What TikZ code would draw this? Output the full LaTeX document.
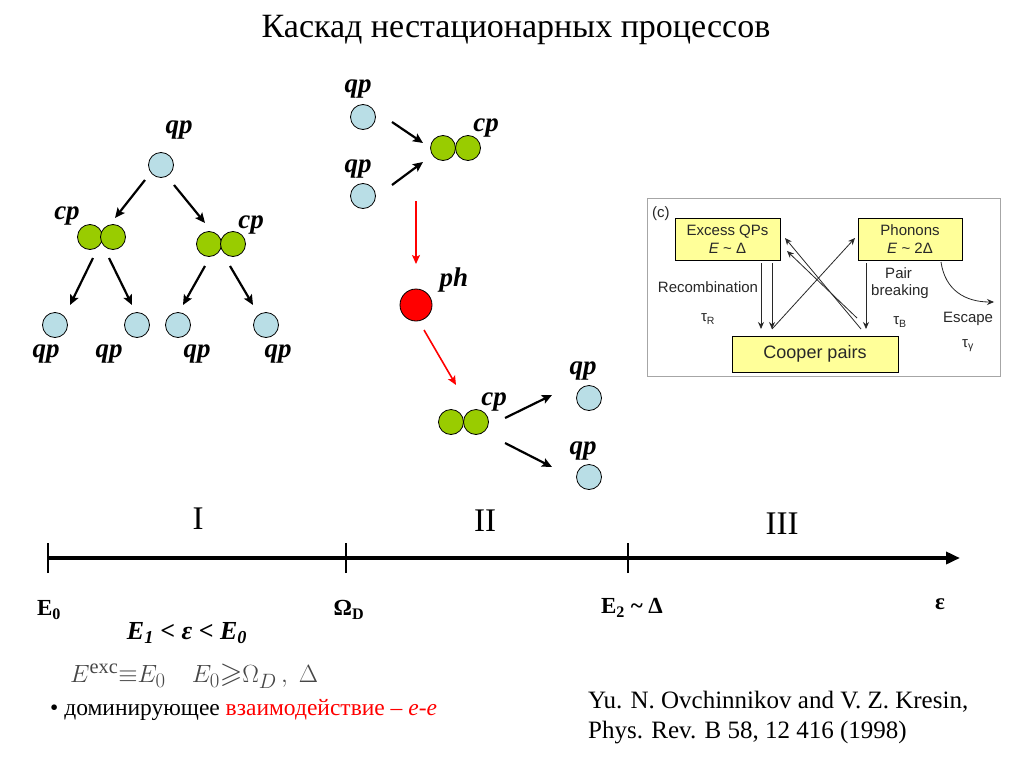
\documentclass[tikz,border=0pt]{standalone}
\usepackage{amssymb}
\usepackage{fontspec}
\setmainfont{Liberation Serif}
\newfontfamily\insetfont{Liberation Sans}
\usetikzlibrary{arrows.meta}
\definecolor{qpblue}{RGB}{185,222,230}
\definecolor{cpgreen}{RGB}{153,204,0}
\definecolor{phred}{RGB}{255,0,0}
\definecolor{boxyellow}{RGB}{255,255,153}
\definecolor{insettext}{RGB}{40,40,40}
\definecolor{formgray}{RGB}{70,70,70}
\begin{document}
\begin{tikzpicture}[x=1pt,y=-1pt,
  qpc/.style={circle,draw=black,line width=0.8pt,fill=qpblue,minimum size=25pt,inner sep=0pt},
  cpc/.style={circle,draw=black,line width=0.8pt,fill=cpgreen,minimum size=25pt,inner sep=0pt},
  phc/.style={circle,draw=black,line width=0.8pt,fill=phred,minimum size=32pt,inner sep=0pt},
  pairbox/.style={inner sep=0pt,minimum width=48pt,minimum height=25pt},
  lab/.style={font=\fontsize{27}{30}\selectfont\bfseries\itshape,inner sep=0pt},
  arr/.style={line width=2.2pt,-{Stealth[length=10pt,width=9pt,inset=2pt]}},
  redarr/.style={line width=1.6pt,draw=phred,-{Stealth[length=9pt,width=8pt,inset=2pt]}},
  axlab/.style={font=\fontsize{23}{26}\selectfont\bfseries,inner sep=0pt},
  region/.style={font=\fontsize{33}{36}\selectfont,inner sep=0pt},
  ybox/.style={draw=black,line width=0.6pt,fill=boxyellow,inner sep=0pt,align=center,text=insettext},
  itext/.style={font=\insetfont\fontsize{15}{18}\selectfont,text=insettext,inner sep=0pt,align=center},
  iarr/.style={line width=0.8pt,draw=insettext,-{Stealth[length=7pt,width=6pt]}}
]
\useasboundingbox (0,0) rectangle (1024,768);
\fill[white] (0,0) rectangle (1024,768);

% title
\node[font=\fontsize{34}{38}\selectfont,inner sep=0pt] (title) at (516,30) {Каскад нестационарных процессов};

% ---- left tree ----
\node[qpc] (q0) at (161,165) {};
\node[lab] (lq0) at (179,130) {qp};
\node[cpc] (a1) at (90,237) {};
\node[cpc] (a2) at (113,237) {};
\node[pairbox] (A) at (101.5,237) {};
\node[lab] (lA) at (67,216) {cp};
\node[cpc] (b1) at (209,244) {};
\node[cpc] (b2) at (233,244) {};
\node[pairbox] (B) at (221,244) {};
\node[lab] (lB) at (251,225) {cp};
\node[qpc] (q1) at (55,325) {};
\node[qpc] (q2) at (137,325) {};
\node[qpc] (q3) at (178,325) {};
\node[qpc] (q4) at (266,325) {};
\node[lab] (lq1) at (46,354) {qp};
\node[lab] (lq2) at (109,354) {qp};
\node[lab] (lq3) at (197,354) {qp};
\node[lab] (lq4) at (278,354) {qp};
\draw[arr] ([shift={(-16,15)}]q0.center) -- ([shift={(13.5,-19)}]A.center);
\draw[arr] ([shift={(13,20)}]q0.center) -- ([shift={(-16,-21)}]B.center);
\draw[arr] ([shift={(-8.5,21)}]A.center) -- ([shift={(15,-20)}]q1.center);
\draw[arr] ([shift={(7.5,21)}]A.center) -- ([shift={(-5,-20)}]q2.center);
\draw[arr] ([shift={(-16,22)}]B.center) -- ([shift={(5,-20)}]q3.center);
\draw[arr] ([shift={(9,22)}]B.center) -- ([shift={(-13,-20)}]q4.center);

% ---- middle chain ----
\node[qpc] (m1) at (363,117) {};
\node[lab] (lm1) at (358,89) {qp};
\node[qpc] (m2) at (363,196) {};
\node[lab] (lm2) at (358,169) {qp};
\node[cpc] (c1) at (443,148) {};
\node[cpc] (c2) at (468,148) {};
\node[pairbox] (C) at (455.5,148) {};
\node[lab] (lC) at (486,128) {cp};
\node[phc] (ph) at (416,305) {};
\node[lab] (lph) at (454,280) {ph};
\node[cpc] (d1) at (451,422) {};
\node[cpc] (d2) at (476,422) {};
\node[pairbox] (D) at (463.5,422) {};
\node[lab] (lD) at (494,402) {cp};
\node[qpc] (m3) at (589,398) {};
\node[lab] (lm3) at (583,371) {qp};
\node[qpc] (m4) at (589,477) {};
\node[lab] (lm4) at (583,451) {qp};
\draw[arr] ([shift={(29,5)}]m1.center) -- ([shift={(-32.5,-5)}]C.center);
\draw[arr] ([shift={(29,-11)}]m2.center) -- ([shift={(-32.5,14)}]C.center);
\draw[redarr] ([shift={(-39.5,53)}]C.center) -- ([shift={(0,-41)}]ph.center);
\draw[redarr] ([shift={(8,25)}]ph.center) -- ([shift={(-7.5,-37)}]D.center);
\draw[arr] ([shift={(41.5,-4)}]D.center) -- ([shift={(-37,-3)}]m3.center);
\draw[arr] ([shift={(41.5,21)}]D.center) -- ([shift={(-37,-10)}]m4.center);

% ---- inset ----
\draw[draw=gray!70,line width=1pt] (647,198) rectangle (1000,376);
\node[itext,anchor=north west] (cl) at (652,206) {(c)};
\node[ybox,minimum width=105pt,minimum height=42pt] (xqp) at (727.5,239) {};
\node[itext] (xqpt) at (727.5,239) {Excess QPs\\\textit{E} \textasciitilde{} Δ};
\node[ybox,minimum width=104pt,minimum height=42pt] (phn) at (910,239) {};
\node[itext] (phnt) at (910,239) {Phonons\\\textit{E} \textasciitilde{} 2Δ};
\node[ybox,minimum width=166pt,minimum height=36pt] (cpp) at (815,354) {};
\node[itext,font=\insetfont\fontsize{18}{20}\selectfont] (cppt) at (815,354) {Cooper pairs};
\coordinate (r1) at (761,263);
\coordinate (r2) at (772,263);
\coordinate (r3) at (761,329);
\coordinate (r4) at (772,329);
\draw[iarr] (r1) -- (r3);
\draw[iarr] (r2) -- (r4);
\draw[iarr] (r4) -- (855,238);
\draw[iarr] (861,329) -- (785,238);
\draw[iarr] (857,318) -- (787,251);
\draw[iarr] (866,263) -- (866,329);
\draw[iarr] (941,262) .. controls (945,290) and (965,302) .. (994,302);
\node[itext] (rec) at (708,287) {Recombination};
\node[itext] (taur) at (708,319) {τ\textsubscript{R}};
\node[itext,align=left] (pb) at (900,283) {\hspace*{14pt}Pair\\[-1pt]breaking};
\node[itext] (taub) at (900,322) {τ\textsubscript{B}};
\node[itext] (esc) at (968,319) {Escape};
\node[itext] (taug) at (968,346) {τ\textsubscript{γ}};

% ---- axis ----
\coordinate (ax0) at (48,558);
\coordinate (ax1) at (346,558);
\coordinate (ax2) at (628,558);
\coordinate (axe) at (960,558);
\draw[line width=3.5pt,-{Triangle[length=14pt,width=12pt]}] (ax0) -- (axe);
\foreach \c in {ax0,ax1,ax2}{
  \draw[line width=2pt] ([yshift=-15pt]\c) -- ([yshift=15pt]\c);
}
\node[region] (rI) at (198,519) {I};
\node[region] (rII) at (485,521) {II};
\node[region] (rIII) at (782,524) {III};
\node[axlab] (e0) at (49,610) {E\textsubscript{0}};
\node[axlab] (om) at (349,610) {Ω\textsubscript{D}};
\node[axlab] (e2) at (632,608) {E\textsubscript{2} \textasciitilde{} Δ};
\node[axlab] (eps) at (940,604) {ε};
\node[font=\fontsize{26}{28}\selectfont\bfseries\itshape,inner sep=0pt] (cond) at (187,633) {E\textsubscript{1} < ε < E\textsubscript{0}};

% ---- formula and bullet ----
\node[text=formgray,inner sep=0pt,anchor=west,font=\fontsize{29}{32}\selectfont] (form) at (70,676)
  {$E^{\mathrm{exc}}{\equiv}E_0$\hspace{26pt}$E_0{\geqslant}\Omega_D\,,\;\Delta$};
\node[inner sep=0pt,anchor=west,font=\fontsize{23.5}{26}\selectfont] (bul) at (50,710)
  {• доминирующее \textcolor{phred}{взаимодействие – \textit{e-e}}};

% ---- reference ----
\node[inner sep=0pt,anchor=west,align=left,font=\fontsize{25}{30}\selectfont] (ref) at (588,718)
  {Yu. N. Ovchinnikov and V. Z. Kresin,\\Phys. Rev. B 58, 12 416 (1998)};
\end{tikzpicture}
\end{document}
